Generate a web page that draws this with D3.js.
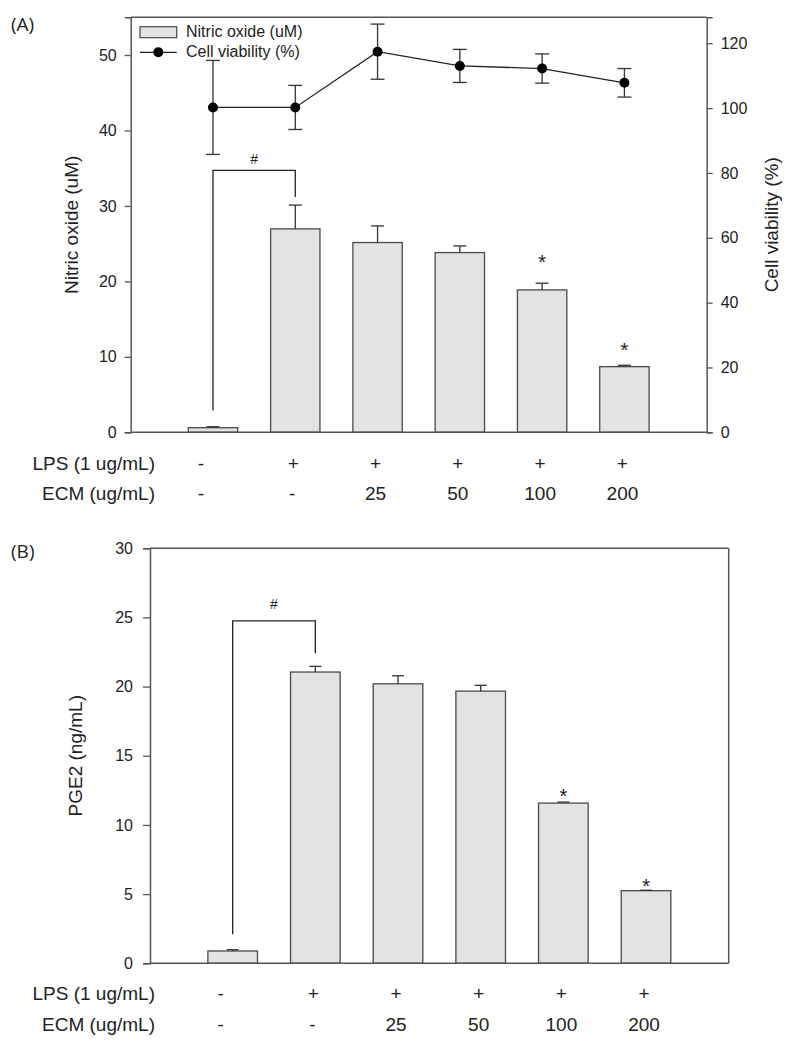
<!DOCTYPE html>
<html><head><meta charset="utf-8">
<script src="https://cdn.jsdelivr.net/npm/d3@7"></script>
<style>
body{margin:0;background:#fff;}
svg{display:block;}
text{font-family:"Liberation Sans",Arial,sans-serif;fill:#222;}
</style></head>
<body>
<svg id="c" width="798" height="1047"></svg>
<script>
// ---------- DATA ----------
const groups = [1,2,3,4,5,6];
const lpsLabels = ["-","+","+","+","+","+"];
const ecmLabels = ["-","-","25","50","100","200"];
const rowLabels = ["LPS (1 ug/mL)","ECM (ug/mL)"];

const nitricOxide = [0.61, 26.96, 25.15, 23.82, 18.87, 8.70];
const nitricOxideErr = [0.13, 3.15, 2.2, 0.88, 0.89, 0.18];
const viability = [100.2, 100.2, 117.4, 113.0, 112.2, 107.8];
const viabilityErr = [14.5, 6.8, 8.5, 5.1, 4.5, 4.4];
const noTicks = [0,10,20,30,40,50];
const viaTicks = [0,20,40,60,80,100,120];
const noStars = [null,null,null,null,23.3,11.6];
const noBracket = {from:1,to:2,top:34.7,leftEnd:2.9,rightEnd:31.2,label:36.0};

const pge2 = [0.89, 21.05, 20.2, 19.67, 11.58, 5.25];
const pge2Err = [0.09, 0.41, 0.58, 0.42, 0.07, 0.03];
const pgeTicks = [0,5,10,15,20,25,30];
const pgeStars = [null,null,null,null,12.5,5.95];
const pgeBracket = {from:1,to:2,top:24.75,leftEnd:2.1,rightEnd:22.4,label:25.9};

// ---------- STYLE ----------
const barFill = "#e3e3e3", barStroke = "#4a4a4a", axisColor = "#555";
const svg = d3.select("#c");

function panel(opts){
  const g = svg.append("g");
  const {left,right,top,bottom} = opts;
  const x = d3.scaleLinear().domain([0,7]).range([left,right]);
  const y = d3.scaleLinear().domain(opts.yDomain).range([bottom,top]);
  const bw = 0.6*(x(1)-x(0));

  // bars
  g.selectAll("rect.bar").data(groups).join("rect")
    .attr("x",d=>x(d)-bw/2).attr("width",bw)
    .attr("y",(d,i)=>y(opts.values[i])).attr("height",(d,i)=>y(0)-y(opts.values[i]))
    .attr("fill",barFill).attr("stroke",barStroke).attr("stroke-width",1.3);
  // bar error bars (upper)
  const eb = g.selectAll("g.eb").data(groups).join("g");
  eb.append("line").attr("x1",d=>x(d)).attr("x2",d=>x(d))
    .attr("y1",(d,i)=>y(opts.values[i])).attr("y2",(d,i)=>y(opts.values[i]+opts.errs[i]))
    .attr("stroke","#333").attr("stroke-width",1.3);
  eb.append("line").attr("x1",d=>x(d)-opts.cap).attr("x2",d=>x(d)+opts.cap)
    .attr("y1",(d,i)=>y(opts.values[i]+opts.errs[i])).attr("y2",(d,i)=>y(opts.values[i]+opts.errs[i]))
    .attr("stroke","#333").attr("stroke-width",1.3);

  // frame
  g.append("line").attr("x1",left).attr("x2",right).attr("y1",top).attr("y2",top)
    .attr("stroke",axisColor).attr("stroke-width",1.5);
  g.append("line").attr("x1",left).attr("x2",right).attr("y1",bottom).attr("y2",bottom)
    .attr("stroke",axisColor).attr("stroke-width",1.5);

  const la = g.append("g").attr("transform",`translate(${left},0)`)
    .call(d3.axisLeft(y).tickValues(opts.ticks).tickSizeOuter(0).tickSize(opts.tickLen).tickPadding(opts.pad));
  la.select(".domain").attr("stroke",axisColor).attr("stroke-width",1.5);
  la.selectAll(".tick line").attr("stroke",axisColor).attr("stroke-width",1.3);
  la.selectAll(".tick text").attr("font-size",16).attr("fill","#222")
    .style("font-family","'Liberation Sans',Arial,sans-serif");

  // y title
  g.append("text").attr("transform",`translate(${opts.titleX},${(top+bottom)/2}) rotate(-90)`)
    .attr("text-anchor","middle").attr("dominant-baseline","middle")
    .attr("font-size",19).text(opts.yTitle);

  // bracket
  const b = opts.bracket;
  g.append("path").attr("d",`M${x(b.from)},${y(b.leftEnd)}V${y(b.top)}H${x(b.to)}V${y(b.rightEnd)}`)
    .attr("fill","none").attr("stroke","#222").attr("stroke-width",1.3);
  g.append("text").attr("x",(x(b.from)+x(b.to))/2).attr("y",y(b.label))
    .attr("text-anchor","middle").attr("dominant-baseline","middle")
    .attr("font-size",14).attr("fill","#444").text("#");

  // stars
  g.selectAll("text.star").data(groups.filter((d,i)=>opts.stars[i]!=null)).join("text")
    .attr("x",d=>x(d)).attr("y",d=>y(opts.stars[d-1])+7)
    .attr("text-anchor","middle").attr("dominant-baseline","middle")
    .attr("font-size",20).attr("fill","#777").text("*");

  // category rows
  [lpsLabels, ecmLabels].forEach((labs,r)=>{
    const yy = opts.rowY[r];
    g.append("text").attr("x",155).attr("y",yy).attr("text-anchor","end")
      .attr("dominant-baseline","middle").attr("font-size",19).text(rowLabels[r]);
    g.selectAll(null).data(groups).join("text")
      .attr("x",(d,i)=>x(d)-(labs[i]==="-"?(i===0?12:3):2)).attr("y",yy)
      .attr("text-anchor","middle").attr("dominant-baseline","middle")
      .attr("font-size",19).text((d,i)=>labs[i]);
  });

  // panel label
  g.append("text").attr("x",11).attr("y",opts.panelY).attr("font-size",19)
    .style("font-family","'Open Sans',sans-serif").text(opts.panelLabel);
  return {g,x,y,left,right,top,bottom};
}

// ---------- PANEL A ----------
const A = panel({left:130.7,right:706.7,top:17.3,bottom:432.3,yDomain:[0,55],
  values:nitricOxide,errs:nitricOxideErr,ticks:noTicks,cap:6.5,tickLen:6,pad:8,
  yTitle:"Nitric oxide (uM)",titleX:73,bracket:noBracket,stars:noStars,
  rowY:[465,494.5],panelLabel:"(A)",panelY:31});

// right axis (viability)
const yv = d3.scaleLinear().domain([0,128]).range([A.bottom,A.top]);
const ra = A.g.append("g").attr("transform",`translate(${A.right},0)`)
  .call(d3.axisRight(yv).tickValues(viaTicks).tickSizeOuter(0).tickSize(6).tickPadding(8));
ra.select(".domain").attr("stroke",axisColor).attr("stroke-width",1.5);
ra.selectAll(".tick line").attr("stroke",axisColor).attr("stroke-width",1.3);
ra.selectAll(".tick text").attr("font-size",16).attr("fill","#222")
  .style("font-family","'Liberation Sans',Arial,sans-serif");
A.g.append("text").attr("transform",`translate(773,${(A.top+A.bottom)/2}) rotate(-90)`)
  .attr("text-anchor","middle").attr("dominant-baseline","middle")
  .attr("font-size",19).text("Cell viability (%)");

// viability line + error bars
const lineGen = d3.line().x(d=>A.x(d)).y((d,i)=>yv(viability[i]));
A.g.append("path").datum(groups).attr("d",lineGen).attr("fill","none")
  .attr("stroke","#222").attr("stroke-width",1.3);
const veb = A.g.selectAll("g.veb").data(groups).join("g");
veb.append("line").attr("x1",d=>A.x(d)).attr("x2",d=>A.x(d))
  .attr("y1",(d,i)=>yv(viability[i]-viabilityErr[i])).attr("y2",(d,i)=>yv(viability[i]+viabilityErr[i]))
  .attr("stroke","#333").attr("stroke-width",1.3);
[-1,1].forEach(s=>{
  veb.append("line").attr("x1",d=>A.x(d)-7).attr("x2",d=>A.x(d)+7)
    .attr("y1",(d,i)=>yv(viability[i]+s*viabilityErr[i])).attr("y2",(d,i)=>yv(viability[i]+s*viabilityErr[i]))
    .attr("stroke","#333").attr("stroke-width",1.3);
});
A.g.selectAll("circle.v").data(groups).join("circle")
  .attr("cx",d=>A.x(d)).attr("cy",(d,i)=>yv(viability[i])).attr("r",5).attr("fill","#000");

// legend
const lg = A.g.append("g");
lg.append("rect").attr("x",140).attr("y",26.7).attr("width",36.7).attr("height",11)
  .attr("fill",barFill).attr("stroke",barStroke).attr("stroke-width",1.2);
lg.append("text").attr("x",186).attr("y",32.5).attr("dominant-baseline","middle")
  .attr("font-size",16).text("Nitric oxide (uM)");
lg.append("line").attr("x1",140).attr("x2",176.7).attr("y1",52.3).attr("y2",52.3)
  .attr("stroke","#222").attr("stroke-width",1.3);
lg.append("circle").attr("cx",158.3).attr("cy",52.3).attr("r",5).attr("fill","#000");
lg.append("text").attr("x",186).attr("y",52.5).attr("dominant-baseline","middle")
  .attr("font-size",16).text("Cell viability (%)");

// ---------- PANEL B ----------
const B = panel({left:150,right:728.7,top:548.2,bottom:963.3,yDomain:[0,30],
  values:pge2,errs:pge2Err,ticks:pgeTicks,cap:6,tickLen:7,pad:10,
  yTitle:"PGE2 (ng/mL)",titleX:77,bracket:pgeBracket,stars:pgeStars,
  rowY:[995,1026],panelLabel:"(B)",panelY:558});
B.g.append("line").attr("x1",B.right).attr("x2",B.right).attr("y1",B.top).attr("y2",B.bottom)
  .attr("stroke",axisColor).attr("stroke-width",1.5);
</script>
</body></html>
